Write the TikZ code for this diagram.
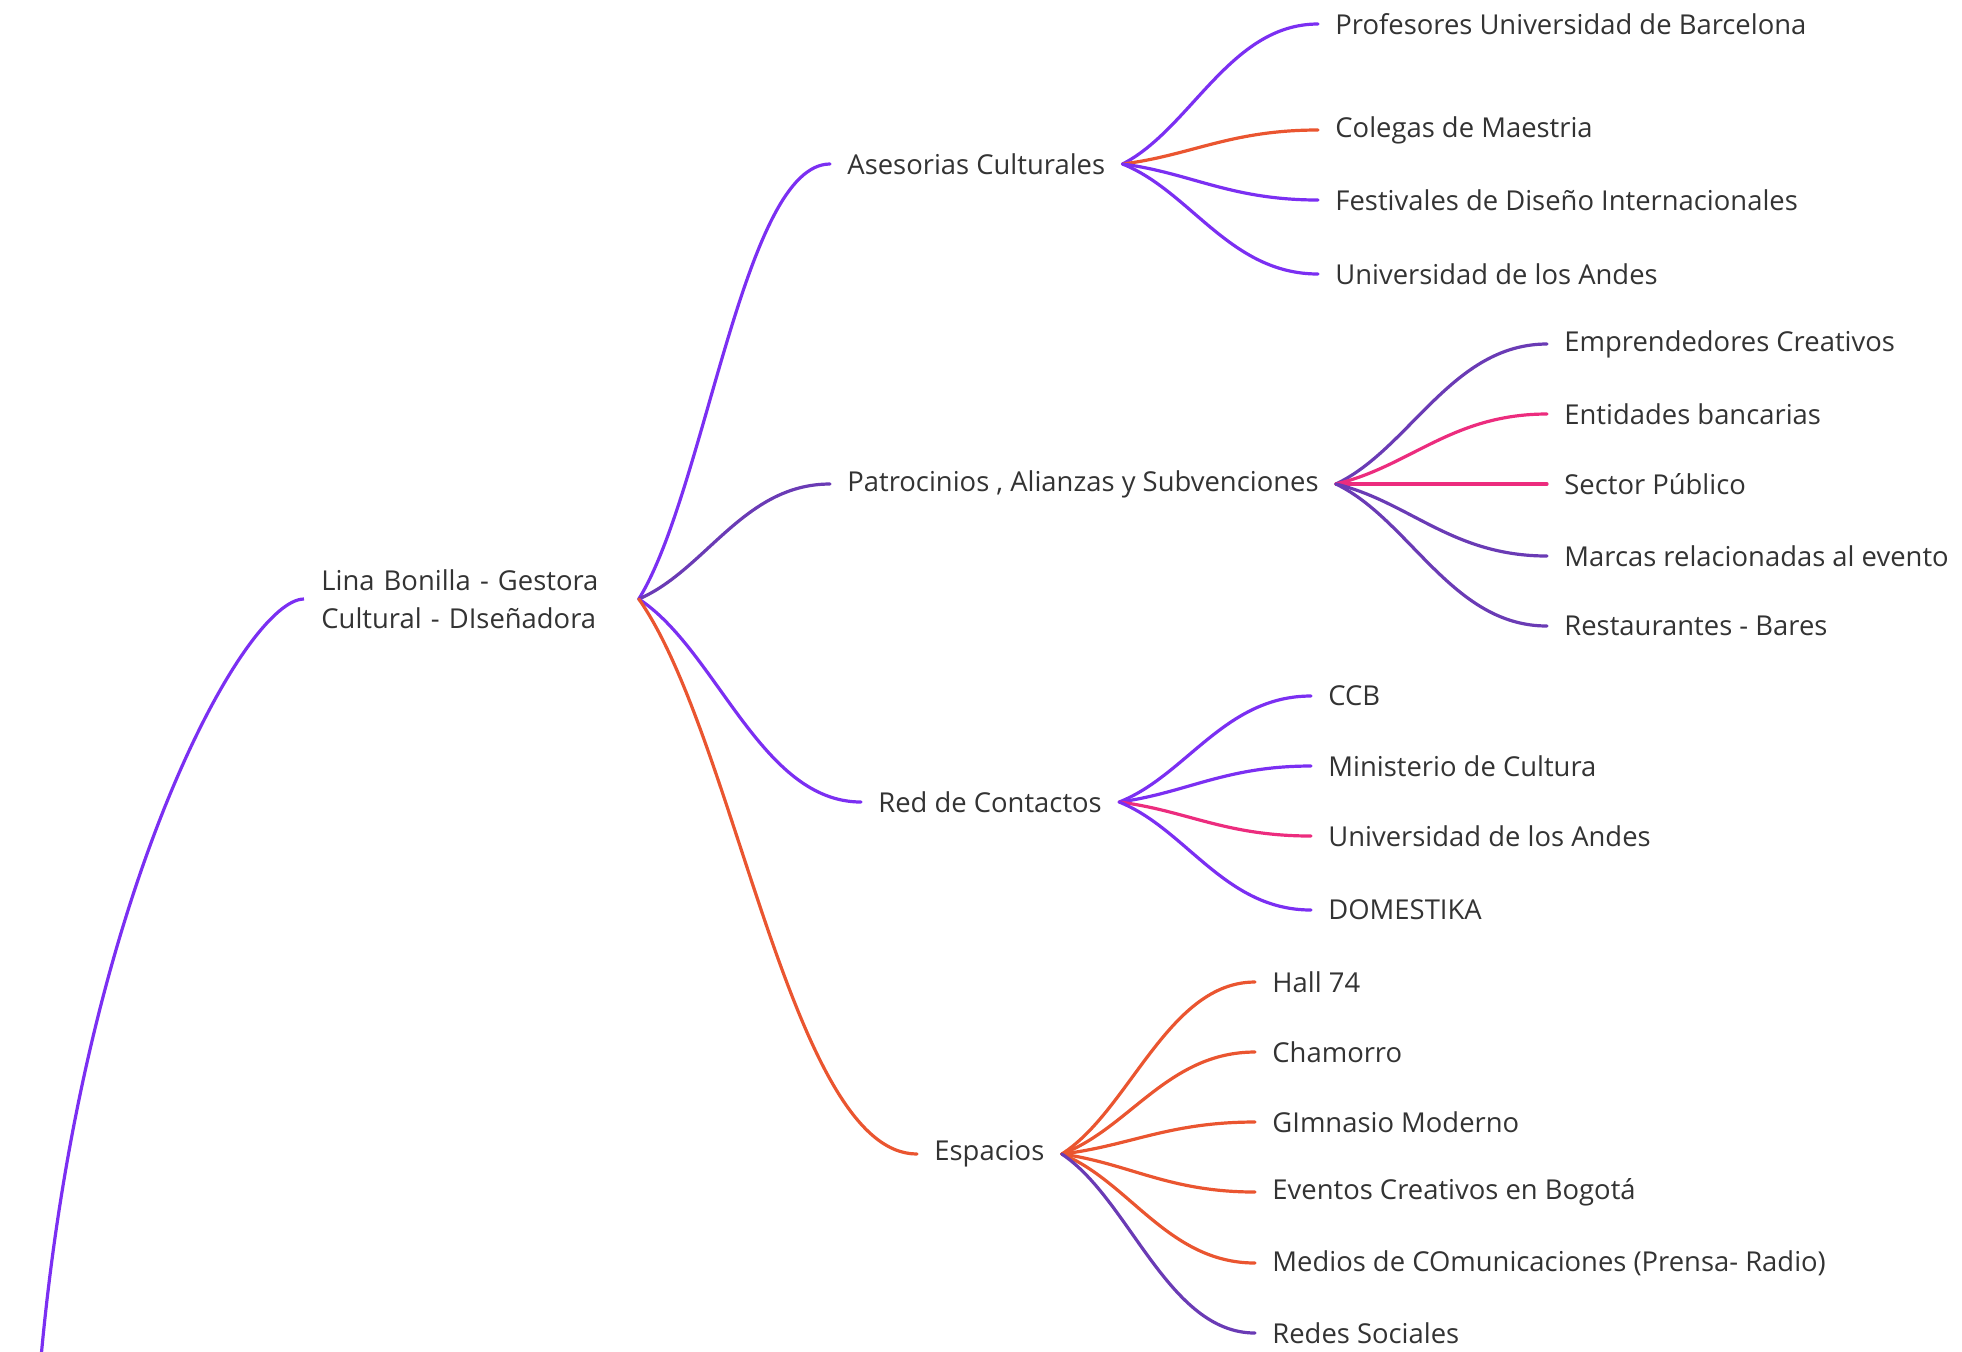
\documentclass[tikz,border=0pt]{standalone}
\usepackage{fontspec}
\setmainfont{Open Sans}
\usetikzlibrary{calc}
\definecolor{violeta}{HTML}{7B2FF2}
\definecolor{morado}{HTML}{6A3BB5}
\definecolor{naranja}{HTML}{EA5530}
\definecolor{rosa}{HTML}{EC2C7E}
\definecolor{texto}{HTML}{333333}

\begin{document}
\begin{tikzpicture}[x=0.5pt,y=-0.5pt,
    tema/.style={anchor=west, inner xsep=8.5pt, inner ysep=2pt, text=texto,
      font=\fontsize{13.7}{18.8}\selectfont},
    rama/.style={line width=1.6pt, line cap=round,
      to path={let \p1=(\tikztostart), \p2=(\tikztotarget) in
        .. controls ({\x1+0.35*(\x2-\x1)},{\y1+0.25*(\y2-\y1)})
        and ({\x1+0.55*(\x2-\x1)},\y2) .. (\tikztotarget)}}]
        \useasboundingbox (0,0) rectangle (1962,1351);

        \coordinate (origen) at (41,1358);
        \node[tema, text width=150pt, align=left] (lina) at (304,599) {Lina Bonilla - Gestora\\Cultural - DIseñadora};

        \node[tema] (asesorias) at (830,164) {Asesorias Culturales};
        \node[tema] (patrocinios) at (830,484) {Patrocinios , Alianzas y Subvenciones};
        \node[tema] (red) at (861,802) {Red de Contactos};
        \node[tema] (espacios) at (917,1154) {Espacios};

        \node[tema] (profesores) at (1318,24) {Profesores Universidad de Barcelona};
        \node[tema] (colegas) at (1318,130) {Colegas de Maestria};
        \node[tema] (festivales) at (1318,200) {Festivales de Diseño Internacionales};
        \node[tema] (uandesa) at (1318,274) {Universidad de los Andes};

        \node[tema] (emprendedores) at (1547,344) {Emprendedores Creativos};
        \node[tema] (entidades) at (1547,414) {Entidades bancarias};
        \node[tema] (sector) at (1547,484) {Sector Público};
        \node[tema] (marcas) at (1547,556) {Marcas relacionadas al evento};
        \node[tema] (restaurantes) at (1547,626) {Restaurantes - Bares};

        \node[tema] (ccb) at (1311,696) {CCB};
        \node[tema] (ministerio) at (1311,766) {Ministerio de Cultura};
        \node[tema] (uandesb) at (1311,836) {Universidad de los Andes};
        \node[tema] (domestika) at (1311,910) {DOMESTIKA};

        \node[tema] (hall) at (1255,982) {Hall 74};
        \node[tema] (chamorro) at (1255,1052) {Chamorro};
        \node[tema] (gimnasio) at (1255,1122) {GImnasio Moderno};
        \node[tema] (eventos) at (1255,1192) {Eventos Creativos en Bogotá};
        \node[tema] (medios) at (1255,1263) {Medios de COmunicaciones (Prensa- Radio)};
        \node[tema] (redes) at (1255,1333) {Redes Sociales};

        % tronco
        \draw[violeta, line width=1.6pt] (origen) .. controls (84,887) and (246,599) .. (lina.west);

        \draw[rama, violeta] (lina.east) to (asesorias.west);
        \draw[rama, morado] (lina.east) to (patrocinios.west);
        \draw[rama, violeta] (lina.east) to (red.west);
        \draw[rama, naranja] (lina.east) to (espacios.west);

        \draw[rama, violeta] (asesorias.east) to (profesores.west);
        \draw[rama, naranja] (asesorias.east) to (colegas.west);
        \draw[rama, violeta] (asesorias.east) to (festivales.west);
        \draw[rama, violeta] (asesorias.east) to (uandesa.west);

        \draw[rama, morado] (patrocinios.east) to (emprendedores.west);
        \draw[rama, rosa] (patrocinios.east) to (entidades.west);
        \draw[rama, rosa] (patrocinios.east) to (sector.west);
        \draw[rama, morado] (patrocinios.east) to (marcas.west);
        \draw[rama, morado] (patrocinios.east) to (restaurantes.west);

        \draw[rama, violeta] (red.east) to (ccb.west);
        \draw[rama, violeta] (red.east) to (ministerio.west);
        \draw[rama, rosa] (red.east) to (uandesb.west);
        \draw[rama, violeta] (red.east) to (domestika.west);

        \draw[rama, naranja] (espacios.east) to (hall.west);
        \draw[rama, naranja] (espacios.east) to (chamorro.west);
        \draw[rama, naranja] (espacios.east) to (gimnasio.west);
        \draw[rama, naranja] (espacios.east) to (eventos.west);
        \draw[rama, naranja] (espacios.east) to (medios.west);
        \draw[rama, morado] (espacios.east) to (redes.west);

    \end{tikzpicture}
\end{document}
